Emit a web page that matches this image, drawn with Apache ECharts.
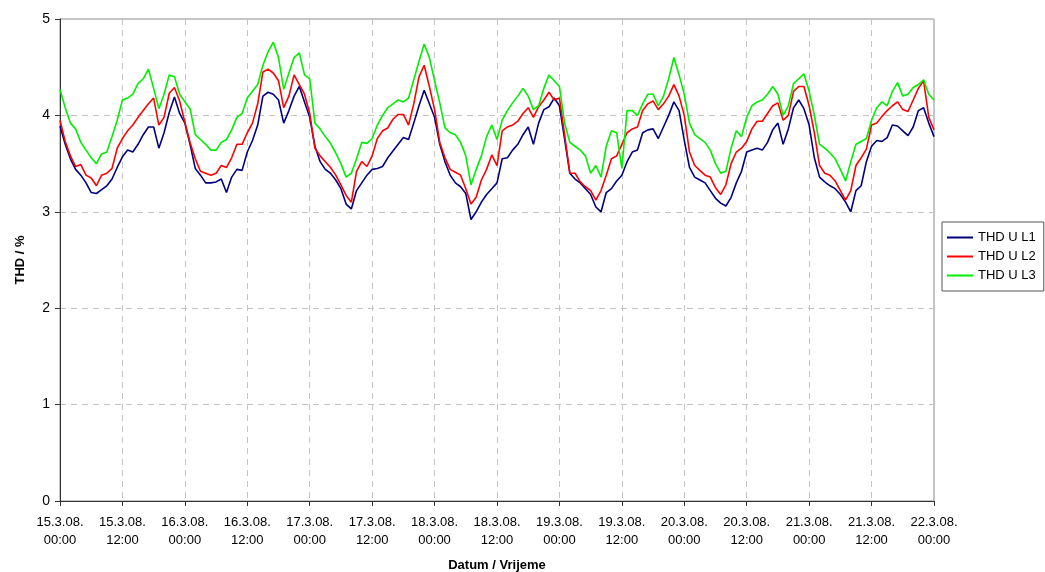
<!DOCTYPE html>
<html>
<head>
<meta charset="utf-8">
<script src="https://cdn.jsdelivr.net/npm/echarts@6/dist/echarts.min.js"></script>
<style>html,body{margin:0;padding:0;background:#fff}#c{width:1045px;height:572px}</style>
</head>
<body>
<div id="c"></div>
<script>
// Hourly categories 15.3.08 00:00 .. 22.3.08 00:00
const days = ['15.3.08.','16.3.08.','17.3.08.','18.3.08.','19.3.08.','20.3.08.','21.3.08.','22.3.08.'];
const categories = [];
for (let d = 0; d < 7; d++) {
  for (let h = 0; h < 24; h++) categories.push(days[d] + '\n' + (h < 10 ? '0' : '') + h + ':00');
}
categories.push(days[7] + '\n00:00');

const seriesNames = ['THD U L1', 'THD U L2', 'THD U L3'];

const thdL1 = [
3.89,3.70,3.55,3.44,3.38,3.30,3.20,3.19,3.23,3.27,3.34,3.46,3.57,3.64,3.62,3.70,3.80,3.88,3.88,3.66,3.82,4.03,4.19,4.02,3.92,3.70,3.45,3.38,
3.30,3.30,3.31,3.34,3.20,3.36,3.44,3.43,3.62,3.74,3.90,4.20,4.24,4.22,4.16,3.92,4.05,4.20,4.30,4.14,3.98,3.68,3.52,3.44,3.40,3.33,3.24,3.08,
3.03,3.22,3.30,3.38,3.44,3.45,3.47,3.56,3.63,3.70,3.77,3.75,3.92,4.10,4.26,4.12,3.98,3.70,3.52,3.38,3.30,3.26,3.19,2.92,3.00,3.10,3.18,3.24,
3.30,3.55,3.56,3.64,3.70,3.80,3.88,3.70,3.92,4.06,4.09,4.18,4.10,3.75,3.40,3.34,3.30,3.24,3.18,3.05,3.00,3.20,3.24,3.32,3.38,3.52,3.62,3.64,
3.82,3.85,3.86,3.76,3.88,4.00,4.14,4.05,3.74,3.46,3.36,3.33,3.30,3.22,3.14,3.09,3.06,3.15,3.30,3.42,3.62,3.64,3.66,3.64,3.72,3.85,3.92,3.70,
3.86,4.08,4.16,4.07,3.90,3.56,3.36,3.31,3.27,3.24,3.18,3.10,3.00,3.22,3.27,3.52,3.68,3.74,3.73,3.77,3.90,3.89,3.84,3.79,3.88,4.05,4.08,3.92,3.78
];
const thdL2 = [
3.95,3.73,3.58,3.47,3.49,3.38,3.35,3.27,3.38,3.40,3.45,3.66,3.76,3.84,3.90,3.98,4.05,4.12,4.18,3.90,3.98,4.23,4.29,4.15,3.93,3.72,3.55,3.42,
3.40,3.38,3.40,3.48,3.46,3.56,3.70,3.70,3.82,3.92,4.12,4.45,4.48,4.44,4.36,4.08,4.20,4.42,4.32,4.22,4.02,3.66,3.58,3.52,3.46,3.38,3.28,3.17,
3.10,3.42,3.52,3.47,3.58,3.76,3.84,3.87,3.96,4.01,4.01,3.90,4.12,4.40,4.52,4.30,4.06,3.72,3.56,3.44,3.41,3.38,3.24,3.08,3.15,3.33,3.44,3.59,
3.48,3.84,3.88,3.90,3.94,4.02,4.08,3.98,4.09,4.16,4.24,4.16,4.18,3.80,3.40,3.40,3.31,3.26,3.22,3.12,3.22,3.38,3.55,3.58,3.70,3.82,3.86,3.88,
4.05,4.12,4.15,4.06,4.12,4.20,4.32,4.20,4.00,3.62,3.48,3.43,3.38,3.36,3.25,3.18,3.28,3.50,3.62,3.66,3.73,3.86,3.94,3.94,4.02,4.10,4.13,3.95,
4.00,4.25,4.30,4.30,4.10,3.82,3.48,3.40,3.38,3.32,3.22,3.12,3.22,3.48,3.56,3.65,3.90,3.92,3.99,4.05,4.10,4.14,4.06,4.04,4.16,4.28,4.36,3.98,3.85
];
const thdL3 = [
4.27,4.08,3.92,3.86,3.72,3.64,3.56,3.50,3.60,3.62,3.78,3.95,4.16,4.18,4.22,4.33,4.38,4.48,4.28,4.07,4.22,4.42,4.40,4.22,4.14,4.07,3.80,3.75,
3.70,3.64,3.64,3.72,3.75,3.85,3.98,4.02,4.18,4.25,4.32,4.52,4.66,4.76,4.60,4.27,4.44,4.60,4.65,4.42,4.38,3.92,3.86,3.78,3.71,3.61,3.50,3.36,
3.40,3.55,3.72,3.71,3.76,3.90,4.00,4.08,4.12,4.16,4.14,4.18,4.37,4.56,4.74,4.60,4.36,4.13,3.87,3.82,3.80,3.72,3.58,3.28,3.44,3.58,3.78,3.90,
3.75,3.95,4.05,4.13,4.20,4.28,4.20,4.06,4.10,4.28,4.42,4.36,4.30,3.92,3.72,3.68,3.64,3.58,3.40,3.48,3.36,3.68,3.84,3.82,3.45,4.05,4.05,4.00,
4.12,4.22,4.22,4.10,4.20,4.38,4.60,4.42,4.22,3.92,3.80,3.76,3.72,3.64,3.50,3.40,3.42,3.66,3.84,3.78,3.98,4.10,4.14,4.16,4.22,4.30,4.22,4.00,
4.10,4.33,4.38,4.43,4.25,4.00,3.70,3.66,3.61,3.55,3.44,3.32,3.52,3.70,3.73,3.76,3.95,4.08,4.14,4.10,4.25,4.34,4.20,4.22,4.29,4.32,4.37,4.22,4.16
];

const font = 'Liberation Sans, Arial, sans-serif';
const chart = echarts.init(document.getElementById('c'), null, {renderer: 'canvas'});
const mk = (name, data, color) => ({
  name, type: 'line', data, symbol: 'none', showSymbol: false,
  lineStyle: {color, width: 1.6}, itemStyle: {color}, animation: false
});
chart.setOption({
  animation: false,
  textStyle: {fontFamily: font},
  grid: {left: 60, right: 111, top: 19, bottom: 71, containLabel: false, outerBoundsMode: 'none',
         show: true, borderColor: '#8c8c8c', borderWidth: 1, backgroundColor: 'transparent'},
  legend: {
    orient: 'vertical', left: 942, top: 222, width: 110,
    data: seriesNames, icon: 'rect', itemWidth: 26, itemHeight: 2, itemGap: 6,
    padding: [9, 8, 9, 5], borderColor: '#555', borderWidth: 1,
    textStyle: {fontFamily: font, fontSize: 13, color: '#000', padding: [0, 0, 0, 0]}
  },
  xAxis: {
    type: 'category', data: categories, boundaryGap: false,
    name: 'Datum / Vrijeme', nameLocation: 'middle', nameGap: 58, nameMoveOverlap: false,
    nameTextStyle: {fontFamily: font, fontSize: 13, fontWeight: 'bold', color: '#000'},
    axisLine: {lineStyle: {color: '#333', width: 1}},
    axisTick: {interval: 11, length: 5, lineStyle: {color: '#333'}},
    axisLabel: {interval: 11, fontFamily: font, fontSize: 13, color: '#000', lineHeight: 18, margin: 12},
    splitLine: {show: true, interval: 11, lineStyle: {color: '#c4c4c4', type: [6, 5], width: 1}}
  },
  yAxis: {
    type: 'value', min: 0, max: 5, interval: 1,
    name: 'THD / %', nameLocation: 'middle', nameGap: 33, nameMoveOverlap: false,
    nameTextStyle: {fontFamily: font, fontSize: 13, fontWeight: 'bold', color: '#000'},
    axisLine: {show: true, lineStyle: {color: '#333', width: 1}},
    axisTick: {show: true, length: 5, lineStyle: {color: '#333'}},
    axisLabel: {fontFamily: font, fontSize: 14, color: '#000', margin: 10},
    splitLine: {show: true, lineStyle: {color: '#c4c4c4', type: [6, 5], width: 1}}
  },
  series: [
    mk(seriesNames[0], thdL1, '#000080'),
    mk(seriesNames[1], thdL2, '#ff0000'),
    mk(seriesNames[2], thdL3, '#00ee00')
  ]
});
</script>
</body>
</html>
